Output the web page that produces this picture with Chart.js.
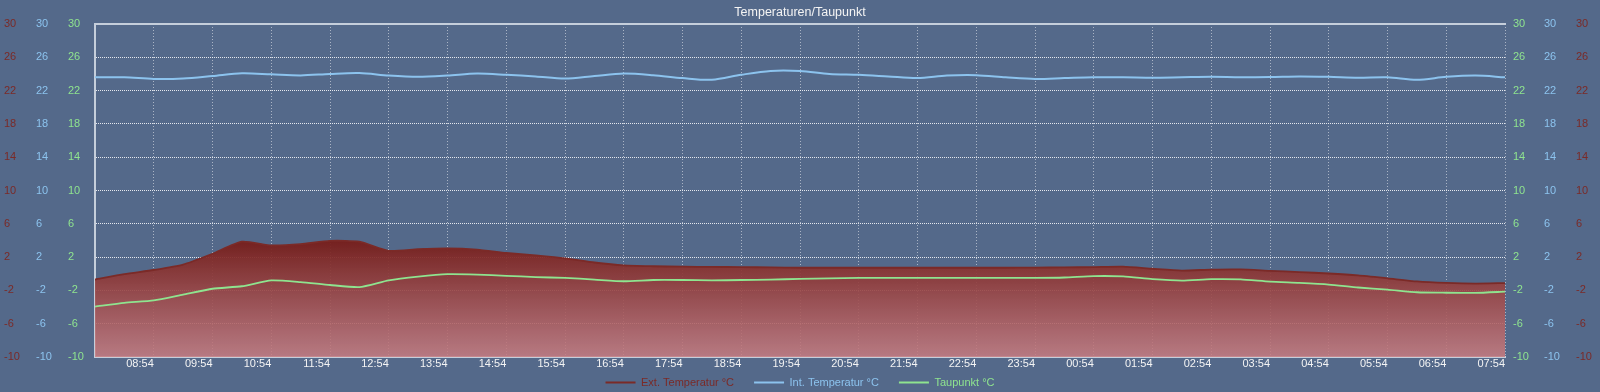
<!DOCTYPE html>
<html>
<head>
<meta charset="utf-8">
<title>Temperaturen/Taupunkt</title>
<script src="https://cdn.jsdelivr.net/npm/chart.js@4.4.1/dist/chart.umd.min.js"></script>
<style>
  html, body { margin: 0; padding: 0; background: #54698a; }
  #wrap { width: 1600px; height: 392px; }
</style>
</head>
<body>
<div id="wrap"><canvas id="tempChart"></canvas></div>
<script>
// Zeit in Stunden seit 07:54 (24h Fenster)
const hours = [0, 0.5, 1, 1.5, 2, 2.5, 3, 3.5, 4, 4.5, 5, 5.5, 6, 6.5, 7, 7.5, 8, 8.5, 9, 9.5,
  10, 10.5, 11, 11.5, 12, 12.5, 13, 13.5, 14, 14.5, 15, 15.5, 16, 16.5, 17, 17.5, 18, 18.5, 19, 19.5,
  20, 20.5, 21, 21.5, 22, 22.5, 23, 23.5, 24];

// Messwerte (°C)
const extTemp = [-0.7, -0.05, 0.45, 1.1, 2.4, 3.85, 3.4, 3.55, 3.95, 3.85, 2.75, 2.95, 3.05, 2.9, 2.5, 2.2,
  1.85, 1.35, 1.0, 0.9, 0.85, 0.82, 0.8, 0.76, 0.72, 0.72, 0.72, 0.72, 0.72, 0.72, 0.72, 0.72, 0.74,
  0.76, 0.8, 0.85, 0.6, 0.38, 0.5, 0.52, 0.35, 0.2, 0.03, -0.2, -0.55, -0.92, -1.1, -1.18, -1.12];

const intTemp = [23.6, 23.6, 23.4, 23.45, 23.75, 24.08, 23.95, 23.82, 24.0, 24.1, 23.8, 23.65, 23.8, 24.04,
  23.9, 23.7, 23.44, 23.75, 24.04, 23.85, 23.5, 23.3, 23.9, 24.36, 24.35, 24.0, 23.9, 23.7, 23.5, 23.8,
  23.85, 23.6, 23.4, 23.5, 23.6, 23.6, 23.55, 23.6, 23.65, 23.6, 23.62, 23.7, 23.65, 23.55, 23.6, 23.3,
  23.65, 23.8, 23.6];

const dewPoint = [-3.95, -3.5, -3.2, -2.5, -1.8, -1.5, -0.8, -1.0, -1.35, -1.6, -0.8, -0.35, -0.05, -0.1,
  -0.25, -0.4, -0.5, -0.7, -0.9, -0.75, -0.75, -0.8, -0.75, -0.7, -0.62, -0.55, -0.5, -0.5, -0.5, -0.5,
  -0.5, -0.5, -0.5, -0.45, -0.28, -0.32, -0.65, -0.82, -0.65, -0.68, -0.95, -1.1, -1.3, -1.65, -1.9,
  -2.22, -2.28, -2.3, -2.15];

// Achsenbeschriftung
const tickHours = [1, 2, 3, 4, 5, 6, 7, 8, 9, 10, 11, 12, 13, 14, 15, 16, 17, 18, 19, 20, 21, 22, 23, 24];
const tickLabels = ['08:54', '09:54', '10:54', '11:54', '12:54', '13:54', '14:54', '15:54', '16:54',
  '17:54', '18:54', '19:54', '20:54', '21:54', '22:54', '23:54', '00:54', '01:54', '02:54', '03:54',
  '04:54', '05:54', '06:54', '07:54'];

const seriesNames = ['Ext. Temperatur °C', 'Int. Temperatur °C', 'Taupunkt °C'];

// Farben
const RED = '#7b2a27';
const BLUE = '#8cc3ee';
const GREEN = '#8fe48f';
const BORDER = '#c5cedb';
const FONT = "'Liberation Sans', Arial, sans-serif";

Chart.defaults.font.family = FONT;

function toPoints(values) {
    return hours.map((h, i) => ({ x: h, y: values[i] }));
}

// Farbverlauf unter der Aussentemperatur
function extFill(context) {
    const { chart } = context;
    const { chartArea, scales } = chart;
    if (!chartArea) return 'rgba(122,32,28,0.9)';
    const top = scales.yRedL.getPixelForValue(4);
    const g = chart.ctx.createLinearGradient(0, top, 0, chartArea.bottom);
    g.addColorStop(0, 'rgba(118,28,24,0.94)');
    g.addColorStop(1, 'rgba(200,124,128,0.85)');
    return g;
}

function yAxis(position, weight, color, width, withGrid) {
    return {
        type: 'linear',
        position: position,
        weight: weight,
        min: -10,
        max: 30,
        ticks: {
            stepSize: 4,
            color: color,
            font: { size: 11 },
            padding: 8,
            crossAlign: position === 'left' ? 'far' : 'near'
        },
        grid: {
            display: withGrid,
            drawTicks: false,
            color: 'rgba(255,255,255,0.85)',
            lineWidth: 1
        },
        border: { display: withGrid, color: BORDER, width: 2, dash: [1, 1] },
        afterFit: s => { s.width = width; }
    };
}

new Chart(document.getElementById('tempChart'), {
    type: 'line',
    data: {
        datasets: [{
            label: seriesNames[0],
            data: toPoints(extTemp),
            borderColor: RED,
            backgroundColor: extFill,
            borderWidth: 1.8,
            fill: 'start',
            pointRadius: 0,
            tension: 0.2,
            yAxisID: 'yRedL',
            order: 3
        }, {
            label: seriesNames[1],
            data: toPoints(intTemp),
            borderColor: BLUE,
            borderWidth: 2,
            pointRadius: 0,
            tension: 0.3,
            yAxisID: 'yBlueL',
            order: 2
        }, {
            label: seriesNames[2],
            data: toPoints(dewPoint),
            borderColor: GREEN,
            borderWidth: 1.8,
            pointRadius: 0,
            tension: 0.2,
            yAxisID: 'yGreenL',
            order: 1
        }]
    },
    options: {
        responsive: true,
        maintainAspectRatio: false,
        devicePixelRatio: 1,
        animation: false,
        layout: { padding: { left: 4, right: 4, top: 0, bottom: 0 } },
        plugins: {
            title: {
                display: true,
                text: 'Temperaturen/Taupunkt',
                color: '#f4f4f4',
                font: { size: 12.5, weight: 'normal' },
                padding: { top: 5, bottom: 4 }
            },
            legend: {
                position: 'bottom',
                maxHeight: 35,
                labels: {
                    boxWidth: 30,
                    boxHeight: 2,
                    padding: 20,
                    font: { size: 11 },
                    generateLabels: chart => chart.data.datasets.map((ds, i) => ({
                        text: ds.label,
                        fillStyle: ds.borderColor,
                        strokeStyle: ds.borderColor,
                        fontColor: ds.borderColor,
                        lineWidth: 0,
                        hidden: false,
                        datasetIndex: i
                    }))
                }
            },
            tooltip: { enabled: false }
        },
        scales: {
            x: {
                type: 'linear',
                position: 'bottom',
                min: 0,
                max: 24,
                afterBuildTicks: s => { s.ticks = tickHours.map(v => ({ value: v })); },
                ticks: {
                    autoSkip: false,
                    maxRotation: 0,
                    align: 'end',
                    // mirror: Beschriftung wird nicht auf die (leere) Achsenhoehe beschnitten
                    mirror: true,
                    padding: -14,
                    color: '#f4f4f4',
                    font: { size: 11 },
                    callback: (v, i) => tickLabels[i]
                },
                grid: { drawTicks: false, color: 'rgba(255,255,255,0.5)' },
                border: { color: BORDER, width: 2, dash: [1, 2] },
                afterFit: s => { s.height = 0; }
            },
            xTop: {
                type: 'linear',
                position: 'top',
                min: 0,
                max: 24,
                ticks: { display: false },
                grid: { display: false, drawTicks: false },
                border: { display: true, color: BORDER, width: 2 },
                afterFit: s => { s.height = 0; }
            },
            yGreenL: yAxis('left', 0, GREEN, 27, true),
            yBlueL: yAxis('left', 1, BLUE, 32, false),
            yRedL: yAxis('left', 2, RED, 32, false),
            yGreenR: yAxis('right', 0, GREEN, 31, false),
            yBlueR: yAxis('right', 1, BLUE, 32, false),
            yRedR: yAxis('right', 2, RED, 28, false)
        }
    }
});
</script>
</body>
</html>
